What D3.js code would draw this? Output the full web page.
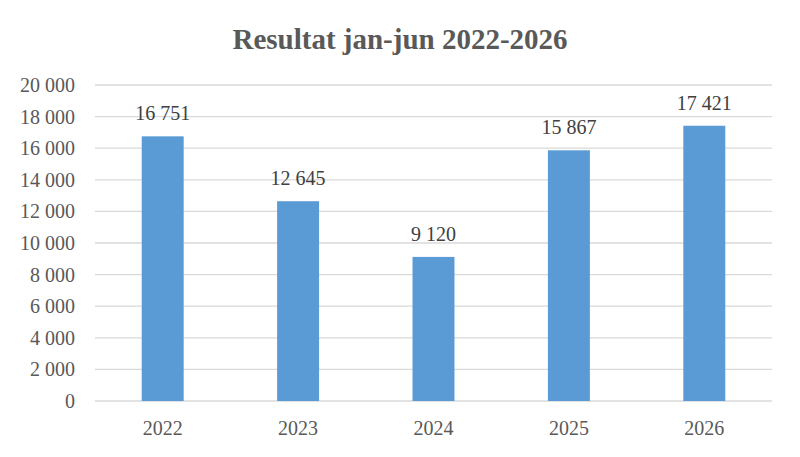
<!DOCTYPE html>
<html>
<head>
<meta charset="utf-8">
<script src="https://cdn.jsdelivr.net/npm/d3@7"></script>
<style>
  body { margin: 0; background: #fff; }
  text { font-family: "Liberation Serif", "DejaVu Serif", serif; }
</style>
</head>
<body>
<div id="chart"></div>
<script>
const years = ["2022", "2023", "2024", "2025", "2026"];
const results = [16751, 12645, 9120, 15867, 17421];
const yTicks = [0, 2000, 4000, 6000, 8000, 10000, 12000, 14000, 16000, 18000, 20000];

const width = 800;
const height = 457;
const margin = { top: 85, right: 28, bottom: 56, left: 95 };

const fmt = v => d3.format(",")(v).replace(/,/g, " ");

const svg = d3.select("#chart")
    .append("svg")
    .attr("width", width)
    .attr("height", height);

const x = d3.scaleBand()
    .domain(years)
    .range([margin.left, width - margin.right])
    .paddingInner(0.69)
    .paddingOuter(0.345);

const y = d3.scaleLinear()
    .domain([0, 20000])
    .range([height - margin.bottom, margin.top]);

// gridlines
svg.append("g")
    .selectAll("line")
    .data(yTicks)
    .join("line")
    .attr("x1", margin.left)
    .attr("x2", width - margin.right)
    .attr("y1", d => y(d))
    .attr("y2", d => y(d))
    .attr("stroke", "#d9d9d9")
    .attr("stroke-width", 1.3);

// y axis labels
const yAxis = svg.append("g")
    .attr("transform", `translate(${margin.left - 20},0)`)
    .call(d3.axisLeft(y).tickValues(yTicks).tickFormat(fmt).tickSize(0).tickPadding(0));
yAxis.select(".domain").remove();
yAxis.selectAll("text")
    .attr("fill", "#595959")
    .style("font-size", "20px")
    .style("font-family", "Liberation Serif, serif");

// x axis labels
const xAxis = svg.append("g")
    .attr("transform", `translate(0,${height - margin.bottom})`)
    .call(d3.axisBottom(x).tickSize(0).tickPadding(20));
xAxis.select(".domain").remove();
xAxis.selectAll("text")
    .attr("fill", "#595959")
    .style("font-size", "20px")
    .style("font-family", "Liberation Serif, serif");

// bars
svg.append("g")
    .selectAll("rect")
    .data(years)
    .join("rect")
    .attr("x", d => x(d))
    .attr("width", x.bandwidth())
    .attr("y", (d, i) => y(results[i]))
    .attr("height", (d, i) => y(0) - y(results[i]))
    .attr("fill", "#5b9bd5");

// value labels
svg.append("g")
    .selectAll("text")
    .data(years)
    .join("text")
    .attr("x", d => x(d) + x.bandwidth() / 2)
    .attr("y", (d, i) => y(results[i]) - 16)
    .attr("text-anchor", "middle")
    .attr("fill", "#404040")
    .style("font-size", "20px")
    .text((d, i) => fmt(results[i]));

// title
svg.append("text")
    .attr("x", width / 2)
    .attr("y", 49)
    .attr("text-anchor", "middle")
    .attr("fill", "#595959")
    .style("font-size", "29px")
    .style("font-weight", "bold")
    .text("Resultat jan-jun 2022-2026");
</script>
</body>
</html>
